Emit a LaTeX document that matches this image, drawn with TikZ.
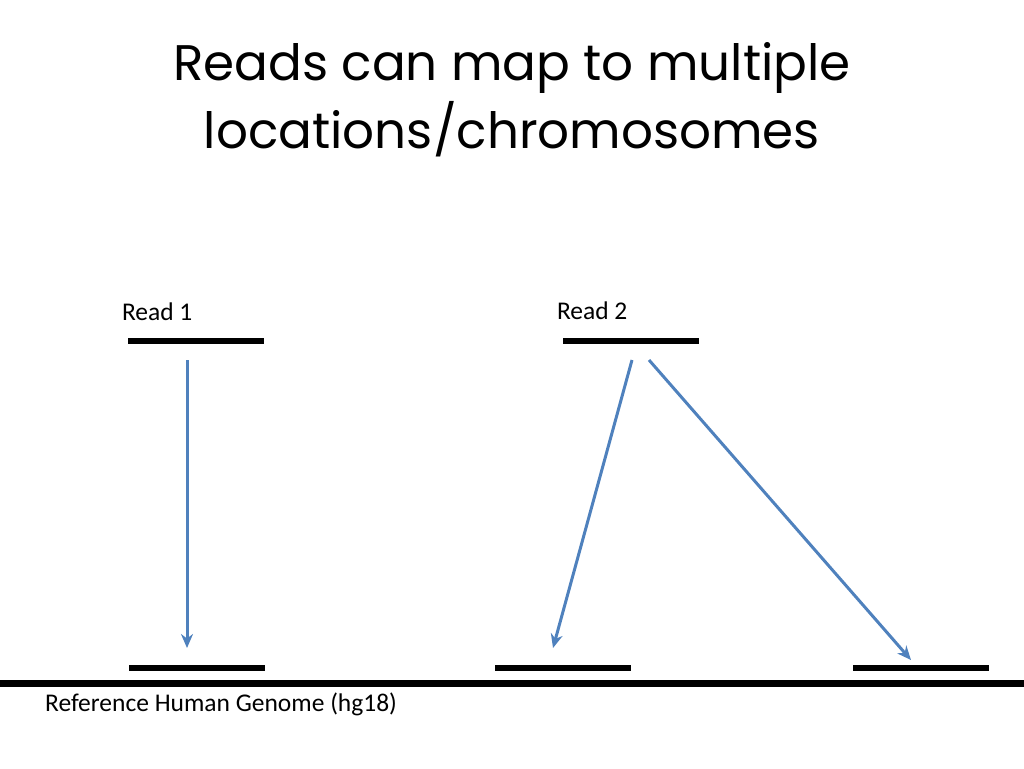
\documentclass[tikz,border=0pt]{standalone}
\usepackage{fontspec}
\setmainfont{Carlito}
\newfontfamily\titlefont{Poppins}
\usetikzlibrary{arrows.meta,positioning}

\begin{document}
\begin{tikzpicture}[x=1pt,y=-1pt,>={Stealth[length=14pt,width=12pt,inset=4.5pt]},
        bar/.style={fill=black,inner sep=0pt,minimum width=136pt,minimum height=6.5pt},
        map/.style={->,draw={rgb,255:red,79;green,129;blue,189},line width=3pt},
        label text/.style={font=\fontsize{25.5}{30}\selectfont,inner sep=0pt,anchor=west}]
    \useasboundingbox (0,0) rectangle (1024,768);

    \node[font=\titlefont\fontsize{50}{68}\selectfont,align=center] (title) at (512,100)
        {Reads can map to multiple\\locations/chromosomes};

    % reads
    \node[bar] (read1) at (196,341) {};
    \node[bar] (read2) at (631,341) {};
    \node[label text] (lab1) at ([xshift=-6pt,yshift=29pt]read1.west) {Read 1};
    \node[label text] (lab2) at ([xshift=-6pt,yshift=30pt]read2.west) {Read 2};

    % genome
    \node[bar] (hit1) at (197,668) {};
    \node[bar] (hit2) at (563,668) {};
    \node[bar] (hit3) at (921,668) {};
    \coordinate (gl) at (0,683);
    \coordinate (gr) at (1024,683);
    \draw[line width=7pt] (gl) -- (gr);
    \node[label text] (ref) at (45,704) {Reference Human Genome (hg18)};

    \draw[map] ([xshift=-9pt,yshift=-19pt]read1.center) -- ([xshift=-10pt,yshift=20pt]hit1.center);
    \draw[map] ([xshift=1pt,yshift=-19pt]read2.center) -- ([xshift=-10pt,yshift=20pt]hit2.center);
    \draw[map] ([xshift=18pt,yshift=-19pt]read2.center) -- ([xshift=-10pt,yshift=8pt]hit3.center);
\end{tikzpicture}
\end{document}
